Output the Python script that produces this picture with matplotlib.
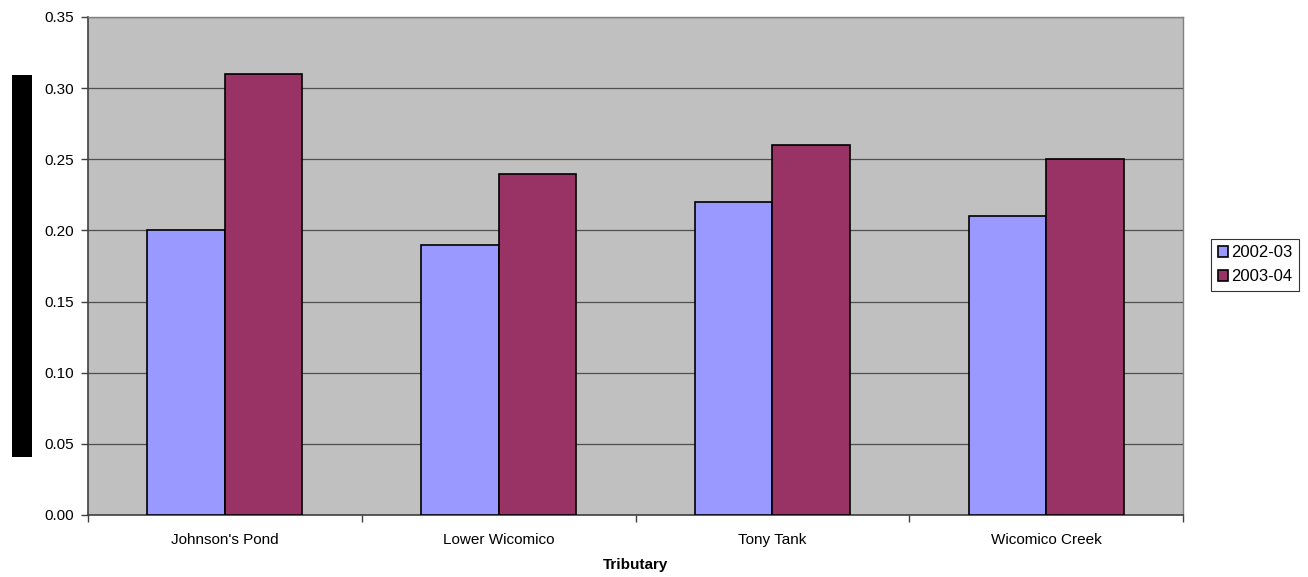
import numpy as np
import matplotlib
matplotlib.use('Agg')
import matplotlib.pyplot as plt
from matplotlib.patches import Rectangle

plt.rcParams['font.family'] = ['Liberation Sans', 'DejaVu Sans']

tributaries = ["Johnson's Pond", "Lower Wicomico", "Tony Tank", "Wicomico Creek"]
season_labels = ['2002-03', '2003-04']
vals_0203 = [0.20, 0.19, 0.22, 0.21]
vals_0304 = [0.31, 0.24, 0.26, 0.25]
yticks = [0.00, 0.05, 0.10, 0.15, 0.20, 0.25, 0.30, 0.35]

fig = plt.figure(figsize=(13.08, 5.77), dpi=100)
ax = fig.add_axes([88/1308, 62/577, 1095/1308, 498/577])
ax.set_facecolor('#C0C0C0')

x = np.arange(len(tributaries))
w = 0.283
ax.bar(x - w/2, vals_0203, w, color='#9999FF', edgecolor='black', linewidth=1.2,
       label=season_labels[0], zorder=3)
ax.bar(x + w/2, vals_0304, w, color='#993366', edgecolor='black', linewidth=1.2,
       label=season_labels[1], zorder=3)

ax.set_xlim(-0.5, len(tributaries) - 0.5)
ax.set_ylim(0, 0.35)
ax.set_yticks(yticks)
ax.set_yticklabels(['%.2f' % v for v in yticks], fontsize=11)
ax.yaxis.grid(True, color='#505050', linewidth=0.9, zorder=1)
ax.set_axisbelow(True)

ax.set_xticks(x)
ax.set_xticklabels(tributaries, fontsize=11)
ax.tick_params(axis='x', which='major', length=0, pad=13)
ax.set_xticks(np.arange(-0.5, len(tributaries)), minor=True)
ax.tick_params(axis='x', which='minor', length=5, color='#404040', width=1)
ax.tick_params(axis='y', length=5, color='#404040', width=1, pad=5)

for s in ['left', 'bottom']:
    ax.spines[s].set_color('#404040')
    ax.spines[s].set_linewidth(1.2)
for s in ['top', 'right']:
    ax.spines[s].set_color('#808080')
    ax.spines[s].set_linewidth(1.0)

ax.set_xlabel('Tributary', fontsize=11, fontweight='bold', labelpad=8)

# y-axis title rendered as a black block in the original
fig.patches.append(Rectangle((12/1308, 120/577), 20/1308, 382/577,
                             transform=fig.transFigure, facecolor='black',
                             edgecolor='none'))

leg = fig.legend(loc='center left', bbox_to_anchor=(1203/1308, 0.541), fontsize=12,
                 frameon=True, fancybox=False, edgecolor='black', handlelength=0.6,
                 handleheight=0.6, handletextpad=0.2, borderpad=0.4, labelspacing=0.55)
leg.get_frame().set_linewidth(0.8)

fig.savefig('out.png', dpi=100)
